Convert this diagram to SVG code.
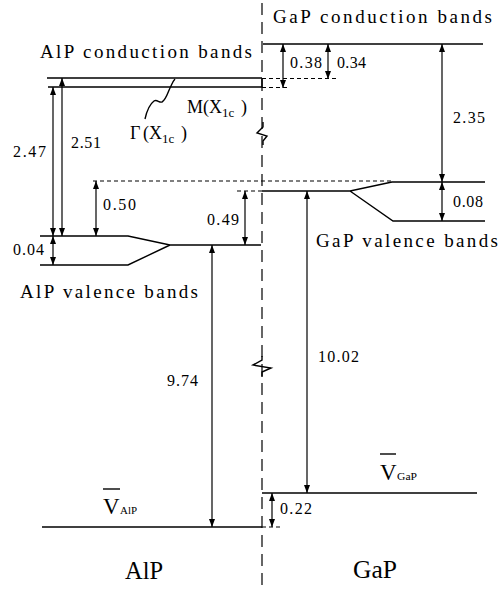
<svg xmlns="http://www.w3.org/2000/svg" width="504" height="590" viewBox="0 0 504 590">
<defs>
<marker id="ah" viewBox="0 0 8 6" refX="8" refY="3" markerWidth="8" markerHeight="6" markerUnits="userSpaceOnUse" orient="auto-start-reverse">
<path d="M0,0 L8,3 L0,6 z" fill="#000"/>
</marker>
<style>
.ln{stroke:#000;stroke-width:1.4;fill:none}
.dl{stroke:#000;stroke-width:1.1;fill:none;stroke-dasharray:4 3}
.ar{stroke:#000;stroke-width:1.2;fill:none;marker-start:url(#ah);marker-end:url(#ah)}
text{font-family:'Liberation Serif','DejaVu Serif',serif;fill:#000}
.lab{font-size:19px}
.num{font-size:16px}
.big{font-size:26px}
</style>
</defs>
<rect width="504" height="590" fill="#fff"/>

<g id="interface">
<line x1="262" y1="3" x2="262" y2="590" stroke="#000" stroke-width="1.2" stroke-dasharray="12 7"/>
<path class="ln" d="M263,122 L263,127 L257,133 L267,136 L263,141 L263,145"/>
<path class="ln" d="M262,356 L262,360 L253,365 L271,368 L262,372 L262,377"/>
</g>

<g id="alp-cb">
<path class="ln" d="M47,78 L262,78 M48,87 L262,87 M262,78 L262,87"/>
<text class="lab" x="40" y="58" textLength="212" lengthAdjust="spacing">AlP conduction bands</text>
<path class="ln" d="M145,119 C147,110 150,104 154,101 C157,99 159,103 162,102 C166,100 168,92 170,88 C172,84 173,81 175,79"/>
<text x="187" y="113" font-size="18"><tspan x="187">M</tspan><tspan x="203">(</tspan><tspan x="209">X</tspan><tspan x="222" dy="4" font-size="13">1c</tspan><tspan x="241" dy="-4">)</tspan></text>
<text x="130" y="139" font-size="18"><tspan x="130">Γ</tspan><tspan x="143">(</tspan><tspan x="149">X</tspan><tspan x="162" dy="4" font-size="13">1c</tspan><tspan x="181" dy="-4">)</tspan></text>
</g>

<g id="gap-cb">
<line class="ln" x1="263" y1="44" x2="483" y2="44"/>
<text class="lab" x="273" y="23" textLength="219" lengthAdjust="spacing">GaP conduction bands</text>
</g>

<g id="alp-vb">
<path class="ln" d="M40,236 L128,236 L170,245 L261,245 M40,265 L128,265 L170,245"/>
<text class="lab" x="20" y="298" textLength="178" lengthAdjust="spacing">AlP valence bands</text>
</g>

<g id="gap-vb">
<path class="ln" d="M262,191 L350,191 L392,182 L485,182 M350,191 L393,221 L485,221"/>
<text class="lab" x="316" y="247" textLength="182" lengthAdjust="spacing">GaP valence bands</text>
</g>

<g id="alp-vbar">
<line class="ln" x1="42" y1="527" x2="262" y2="527"/>
<text x="103" y="514" font-size="23">V</text>
<line class="ln" x1="103" y1="489" x2="120" y2="489"/>
<text x="120" y="514" font-size="10" textLength="17" lengthAdjust="spacingAndGlyphs">AlP</text>
</g>

<g id="gap-vbar">
<line class="ln" x1="262" y1="493" x2="477" y2="493"/>
<text x="380" y="480" font-size="23">V</text>
<line class="ln" x1="380" y1="454" x2="396" y2="454"/>
<text x="397" y="480" font-size="10" textLength="20" lengthAdjust="spacingAndGlyphs">GaP</text>
</g>

<g id="material-labels">
<text class="big" x="125" y="579" textLength="38" lengthAdjust="spacingAndGlyphs">AlP</text>
<text class="big" x="353" y="578" textLength="44" lengthAdjust="spacingAndGlyphs">GaP</text>
</g>

<g id="connectors">
<path class="dl" d="M262,78.5 L336,78.5 M262,87.5 L290,87.5 M93,181 L392,181 M237,191 L262,191 M262,527 L283,527"/>
<line class="ar" x1="62" y1="78" x2="62" y2="236"/>
<line class="ar" x1="53" y1="87" x2="53" y2="236"/>
<line class="ar" x1="53" y1="236" x2="53" y2="265"/>
<line class="ar" x1="96" y1="181" x2="96" y2="236"/>
<line class="ar" x1="245" y1="191" x2="245" y2="245"/>
<line class="ar" x1="212" y1="245" x2="212" y2="527"/>
<line class="ar" x1="283" y1="44" x2="283" y2="88"/>
<line class="ar" x1="328" y1="44" x2="328" y2="79"/>
<line class="ar" x1="442" y1="44" x2="442" y2="182"/>
<line class="ar" x1="442" y1="182" x2="442" y2="221"/>
<line class="ar" x1="307" y1="191" x2="307" y2="493"/>
<line class="ar" x1="272" y1="493" x2="272" y2="527"/>
<text class="num" x="290" y="68" textLength="32" lengthAdjust="spacing">0.38</text>
<text class="num" x="337" y="68" textLength="29" lengthAdjust="spacing">0.34</text>
<text class="num" x="453" y="123" textLength="32" lengthAdjust="spacing">2.35</text>
<text class="num" x="13" y="157" textLength="33" lengthAdjust="spacing">2.47</text>
<text class="num" x="71" y="148" textLength="30" lengthAdjust="spacing">2.51</text>
<text class="num" x="103" y="210" textLength="33" lengthAdjust="spacing">0.50</text>
<text class="num" x="207" y="225" textLength="32" lengthAdjust="spacing">0.49</text>
<text class="num" x="13" y="255" textLength="31" lengthAdjust="spacing">0.04</text>
<text class="num" x="453" y="207" textLength="30" lengthAdjust="spacing">0.08</text>
<text class="num" x="167" y="386" textLength="31" lengthAdjust="spacing">9.74</text>
<text class="num" x="318" y="362" textLength="41" lengthAdjust="spacing">10.02</text>
<text class="num" x="280" y="514" textLength="32" lengthAdjust="spacing">0.22</text>
</g>
</svg>
